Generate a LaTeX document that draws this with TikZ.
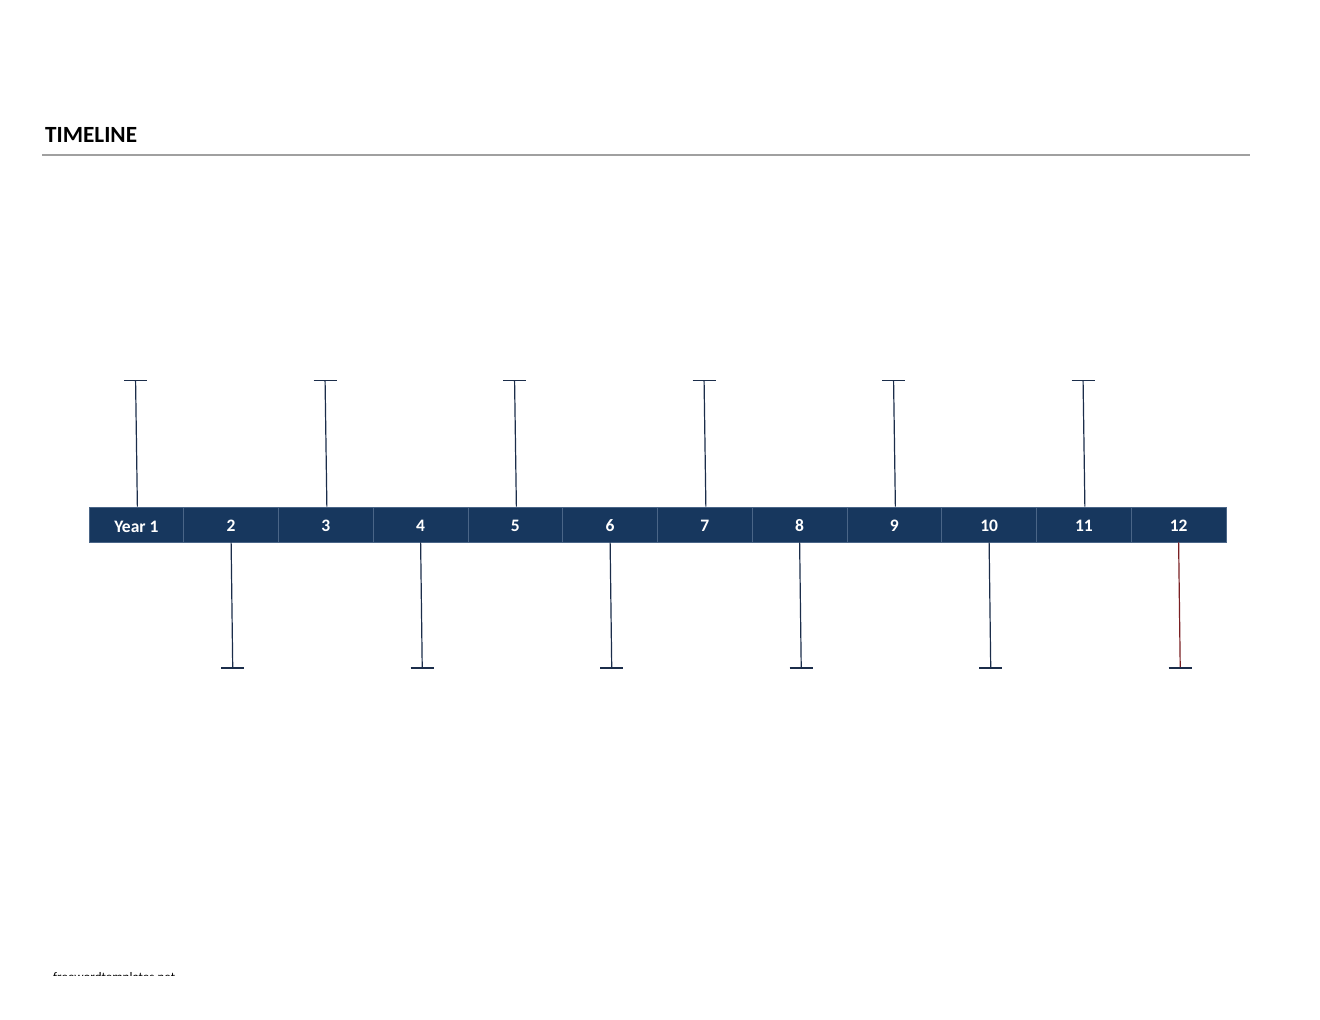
\documentclass[tikz,border=0pt]{standalone}
\usepackage{fontspec}
\setmainfont{Carlito}
\definecolor{barblue}{HTML}{17375E}
\definecolor{segline}{HTML}{4A6587}
\definecolor{stemblue}{HTML}{1B2D4A}
\definecolor{stemred}{HTML}{7A1F22}
\definecolor{rulegray}{HTML}{A0A0A0}
\tikzset{
  seg/.style={fill=barblue,draw=segline,line width=0.8pt,minimum width=94.75pt,minimum height=35pt,inner sep=0pt},
  seglabel/.style={anchor=base,inner sep=0pt,text=white,font=\fontsize{17.5}{19}\selectfont\bfseries},
  stem/.style={draw=stemblue,line width=1.2pt},
  redstem/.style={draw=stemred,line width=1.2pt},
  capline/.style={draw=stemblue,line width=1.3pt}
}
\begin{document}
\begin{tikzpicture}[x=1pt,y=-1pt]
\useasboundingbox[fill=white] (0,0) rectangle (1320,1020);
\node[anchor=base west,inner sep=0pt,font=\fontsize{23.2}{26}\selectfont\bfseries] (title) at (45,142.5) {TIMELINE};
\coordinate (ruleL) at (42,155);
\coordinate (ruleR) at (1250,155);
\draw[rulegray,line width=1.8pt] (ruleL) -- (ruleR);
\foreach \i in {1,...,12} {
  \pgfmathsetmacro\cx{89+(\i-0.5)*94.75}
  \node[seg] (s\i) at (\cx,524.5) {};
  \ifnum\i=1
    \node[seglabel] (l\i) at (\cx,532) {Year 1};
  \else
    \node[seglabel] (l\i) at (\cx,531.5) {\i};
  \fi
  \ifodd\i
    \coordinate (t\i) at (\cx-0.8,380.5);
    \draw[stem] (t\i) -- ([xshift=1pt]s\i.north);
    \draw[capline] ([xshift=-11.5pt]t\i) -- ([xshift=11.5pt]t\i);
  \else
    \coordinate (t\i) at (\cx+1.6,668);
    \ifnum\i=12
      \draw[redstem] (s\i.south) -- (t\i);
    \else
      \draw[stem] (s\i.south) -- (t\i);
    \fi
    \draw[capline] ([xshift=-11.5pt]t\i) -- ([xshift=11.5pt]t\i);
  \fi
}
\begin{scope}
\clip (0,0) rectangle (1320,975);
\node[anchor=base west,inner sep=0pt,font=\fontsize{13}{15}\selectfont] (footer) at (53,981.5) {freewordtemplates.net};
\end{scope}
\end{tikzpicture}
\end{document}
